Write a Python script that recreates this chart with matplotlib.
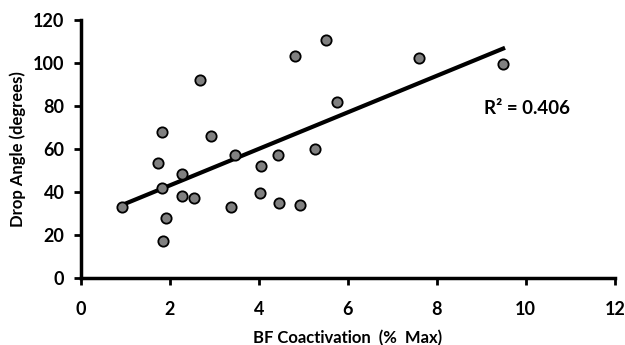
import matplotlib
matplotlib.use("Agg")
import matplotlib.pyplot as plt
import numpy as np

# BF coactivation (% max) vs drop angle (degrees)
coactivation = [0.93, 1.74, 1.81, 1.83, 1.84, 1.92, 2.26, 2.26, 2.53, 2.67, 2.93, 3.38,
                3.47, 4.02, 4.05, 4.44, 4.46, 4.82, 4.93, 5.27, 5.50, 5.76, 7.60, 9.49]
drop_angle = [33.2, 53.7, 68.2, 42.0, 17.6, 27.9, 48.5, 38.4, 37.5, 92.0, 66.0, 33.2,
              57.1, 39.8, 52.3, 57.4, 35.2, 103.4, 34.3, 60.2, 110.5, 82.1, 102.5, 99.7]
x_ticks = [0, 2, 4, 6, 8, 10, 12]
y_ticks = [0, 20, 40, 60, 80, 100, 120]
r2_label = "R\u00b2 = 0.406"

plt.rcParams["font.family"] = ["Lato", "DejaVu Sans"]
plt.rcParams["font.weight"] = "bold"

fig = plt.figure(figsize=(6.25, 3.45), dpi=100)
ax = fig.add_axes([0.1296, 0.193, 0.854, 0.749])

x = np.array(coactivation)
y = np.array(drop_angle)
slope, intercept = np.polyfit(x, y, 1)
xs = np.array([x.min(), x.max()])
ax.plot(xs, slope * xs + intercept, color="black", linewidth=3, zorder=2)

ax.scatter(x, y, s=55, facecolor="#808080", edgecolor="black", linewidth=1.3, zorder=3)

ax.text(9.07, 79, r2_label, fontsize=13.5, fontweight="bold", ha="left", va="center")

ax.set_xlim(0, 12)
ax.set_ylim(0, 120)
ax.set_xticks(x_ticks)
ax.set_yticks(y_ticks)
ax.tick_params(axis="both", labelsize=13, width=2, length=5, direction="out")
ax.tick_params(axis="x", pad=11)
ax.tick_params(axis="y", pad=7)
for lbl in ax.get_xticklabels() + ax.get_yticklabels():
    lbl.set_fontweight("bold")

ax.set_xlabel("BF Coactivation  (%  Max)", fontsize=12, fontweight="bold", labelpad=9)
ax.set_ylabel("Drop Angle (degrees)", fontsize=12, fontweight="bold", labelpad=5)

ax.spines["top"].set_visible(False)
ax.spines["right"].set_visible(False)
ax.spines["left"].set_linewidth(2.5)
ax.spines["bottom"].set_linewidth(2.5)

fig.savefig("out.png", dpi=100)
